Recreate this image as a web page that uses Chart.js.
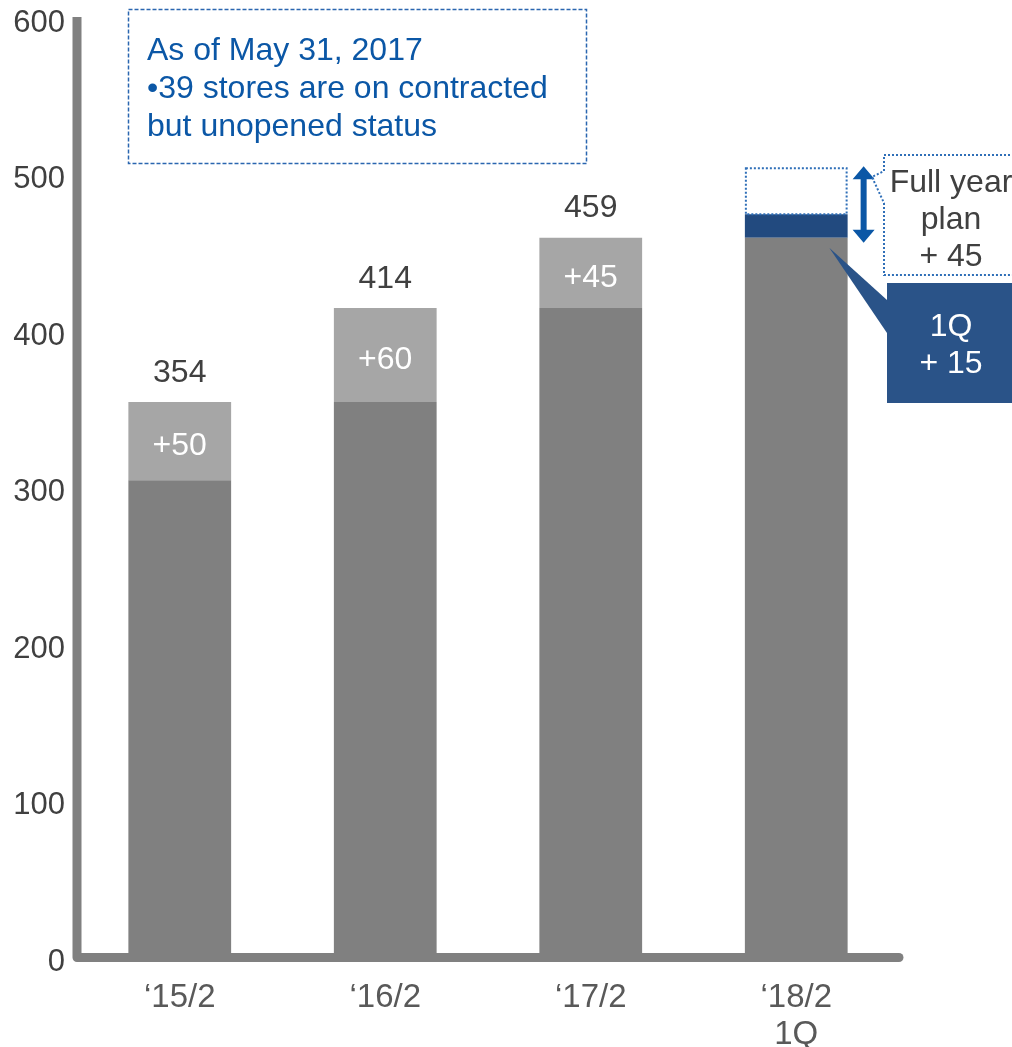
<!DOCTYPE html>
<html>
<head>
<meta charset="utf-8">
<script src="https://cdn.jsdelivr.net/npm/chart.js@4"></script>
<style>
  body { margin: 0; background: #fff; }
  #wrap { width: 1012px; height: 1047px; position: relative; }
</style>
</head>
<body>
<div id="wrap"><canvas id="storeChart"></canvas></div>
<script>
const categories = [["‘15/2"], ["‘16/2"], ["‘17/2"], ["‘18/2", "1Q"]];
const storesBase = [304, 354, 414, 459];
const storesAdded = [50, 60, 45, null];
const firstQuarter = [null, null, null, 15];
const planRemaining = [null, null, null, 30];
const yearEndTotals = [354, 414, 459, null];
const addedLabels = ["+50", "+60", "+45", null];
const noteLines = ["As of May 31, 2017", "•39 stores are on contracted", "but unopened status"];
const planLines = ["Full year", "plan", "+ 45"];
const quarterLines = ["1Q", "+ 15"];

const FONT = "'Liberation Sans', Arial, sans-serif";
const BLUE = "#0b57a6";

function dottedRect(ctx, x, y, w, h, color) {
  ctx.save();
  ctx.strokeStyle = color;
  ctx.lineWidth = 2;
  ctx.setLineDash([2, 2]);
  ctx.strokeRect(x, y, w, h);
  ctx.restore();
}

const decorations = {
  id: "decorations",
  beforeDatasetsDraw(chart) {
    // white fill behind the remaining full-year plan
    const ctx = chart.ctx;
    const bar = chart.getDatasetMeta(3).data[3];
    ctx.save();
    ctx.fillStyle = "#fff";
    ctx.fillRect(bar.x - bar.width / 2, bar.y, bar.width, bar.base - bar.y);
    ctx.restore();
  },
  afterDatasetsDraw(chart) {
    const ctx = chart.ctx;
    const y = chart.scales.y;
    const area = chart.chartArea;

    // axis lines
    ctx.save();
    ctx.strokeStyle = "#808080";
    ctx.lineWidth = 9;
    ctx.lineJoin = "round";
    ctx.lineCap = "butt";
    ctx.beginPath();
    ctx.moveTo(area.left, area.top);
    ctx.lineTo(area.left, area.bottom + 1.5);
    ctx.lineTo(area.right, area.bottom + 1.5);
    ctx.stroke();
    ctx.beginPath();
    ctx.fillStyle = "#808080";
    ctx.arc(area.right, area.bottom + 1.5, 4.5, 0, Math.PI * 2);
    ctx.fill();
    ctx.restore();

    // totals above the bars and increments inside
    const baseMeta = chart.getDatasetMeta(0);
    const addMeta = chart.getDatasetMeta(1);
    ctx.save();
    ctx.font = "32px " + FONT;
    ctx.textAlign = "center";
    ctx.textBaseline = "middle";
    yearEndTotals.forEach((t, i) => {
      if (t == null) return;
      const x = baseMeta.data[i].x;
      ctx.fillStyle = "#404040";
      ctx.fillText(String(t), x, y.getPixelForValue(t) - 29);
      const seg = addMeta.data[i];
      ctx.fillStyle = "#fff";
      ctx.fillText(addedLabels[i], x, (seg.y + seg.base) / 2 + 5);
    });
    ctx.restore();

    // remaining plan outline
    const plan = chart.getDatasetMeta(3).data[3];
    dottedRect(ctx, plan.x - plan.width / 2 + 1, plan.y + 1, plan.width - 2, plan.base - plan.y - 1, "#2f6fb8");

    // double-headed arrow for full-year plan
    const q1 = chart.getDatasetMeta(2).data[3];
    const ax = plan.x + plan.width / 2 + 16;
    const top = plan.y - 1;
    const bot = q1.base + 5;
    ctx.save();
    ctx.fillStyle = BLUE;
    ctx.fillRect(ax - 3, top + 10, 6, bot - top - 20);
    ctx.beginPath();
    ctx.moveTo(ax, top); ctx.lineTo(ax + 11, top + 13); ctx.lineTo(ax - 11, top + 13); ctx.closePath();
    ctx.moveTo(ax, bot); ctx.lineTo(ax + 11, bot - 13); ctx.lineTo(ax - 11, bot - 13); ctx.closePath();
    ctx.fill();
    ctx.restore();

    // full-year plan callout
    ctx.save();
    ctx.strokeStyle = "#2f6fb8";
    ctx.lineWidth = 2;
    ctx.setLineDash([2, 2]);
    ctx.beginPath();
    ctx.moveTo(1014, 155);
    ctx.lineTo(884, 155);
    ctx.lineTo(884, 171);
    ctx.lineTo(872, 177);
    ctx.lineTo(884, 203);
    ctx.lineTo(884, 275);
    ctx.lineTo(1014, 275);
    ctx.stroke();
    ctx.restore();
    ctx.save();
    ctx.font = "32px " + FONT;
    ctx.textAlign = "center";
    ctx.textBaseline = "middle";
    ctx.fillStyle = "#404040";
    planLines.forEach((s, i) => ctx.fillText(s, 951, 183 + i * 37));
    ctx.restore();

    // 1Q callout
    const tipX = q1.x + 33, tipY = q1.base + 10;
    ctx.save();
    ctx.fillStyle = "#2a5388";
    ctx.beginPath();
    ctx.moveTo(tipX, tipY);
    ctx.lineTo(887, 300);
    ctx.lineTo(887, 333);
    ctx.closePath();
    ctx.fill();
    ctx.fillRect(887, 283, 130, 120);
    ctx.font = "32px " + FONT;
    ctx.textAlign = "center";
    ctx.textBaseline = "middle";
    ctx.fillStyle = "#fff";
    quarterLines.forEach((s, i) => ctx.fillText(s, 951, 327 + i * 37));
    ctx.restore();

    // note box
    ctx.save();
    ctx.strokeStyle = "#2a66b0";
    ctx.lineWidth = 1.5;
    ctx.setLineDash([4, 2]);
    ctx.strokeRect(128.5, 9.5, 458, 154);
    ctx.setLineDash([]);
    ctx.font = "32px " + FONT;
    ctx.textAlign = "left";
    ctx.textBaseline = "middle";
    ctx.fillStyle = BLUE;
    noteLines.forEach((s, i) => ctx.fillText(s, 147, 51 + i * 38));
    ctx.restore();
  }
};

new Chart(document.getElementById("storeChart"), {
  type: "bar",
  data: {
    labels: categories,
    datasets: [
      { label: "Stores", data: storesBase, backgroundColor: "#808080" },
      { label: "Opened", data: storesAdded, backgroundColor: "#a6a6a6" },
      { label: "1Q", data: firstQuarter, backgroundColor: "#224a7f" },
      { label: "Plan", data: planRemaining, backgroundColor: "rgba(255,255,255,0)" },
    ],
  },
  options: {
    responsive: true,
    maintainAspectRatio: false,
    animation: false,
    layout: { padding: { top: 17, right: 113, left: 0, bottom: 0 } },
    datasets: { bar: { categoryPercentage: 1, barPercentage: 0.5 } },
    scales: {
      x: {
        stacked: true,
        grid: { display: false, drawTicks: false },
        border: { display: false },
        ticks: {
          color: "#595959",
          font: { family: FONT, size: 33, lineHeight: 1.12 },
          padding: 23,
          maxRotation: 0,
        },
        afterFit(scale) {
          scale.height = 91;
          scale.paddingLeft = 0;
          scale.paddingRight = 0;
        },
      },
      y: {
        stacked: true,
        min: 0,
        max: 600,
        grid: { display: false, drawTicks: false },
        border: { display: false },
        ticks: {
          stepSize: 100,
          color: "#404040",
          font: { family: FONT, size: 31, lineHeight: 1 },
          padding: 12,
          labelOffset: 6,
        },
        afterFit(scale) {
          scale.width = 77;
          scale.paddingTop = 0;
          scale.paddingBottom = 0;
        },
      },
    },
    plugins: {
      legend: { display: false },
      tooltip: { enabled: false },
    },
  },
  plugins: [decorations],
});
</script>
</body>
</html>
